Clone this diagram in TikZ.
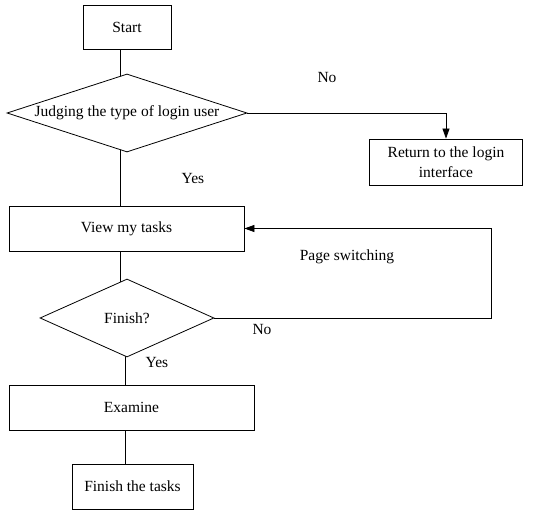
\documentclass[tikz,border=0pt]{standalone}
\usepackage{fontspec}
\setmainfont{Liberation Serif}
\usetikzlibrary{shapes.geometric,arrows.meta,backgrounds}

\tikzset{
  arrow/.style={-{Triangle[length=10pt,width=7pt]}},
}

\begin{document}
\begin{tikzpicture}[x=1pt,y=-1pt,line width=0.8pt,font=\fontsize{15.5}{20}\selectfont]

        \useasboundingbox (0,0) rectangle (544,510);

        \begin{scope}[every node/.style={rectangle,draw,fill=white,inner sep=0pt}]
          \node[minimum width=88,minimum height=44]  (start)   at (127,27)    {Start};
          \node[minimum width=153,minimum height=46,align=center] (ret) at (446,162) {Return to the login\\interface};
          \node[minimum width=235,minimum height=45] (view)    at (126.5,228.5) {View my tasks};
          \node[minimum width=245,minimum height=45] (examine) at (131.5,407.5) {Examine};
          \node[minimum width=121,minimum height=45] (tasks)   at (132.5,486.5) {Finish the tasks};
        \end{scope}

        \begin{scope}[every node/.style={diamond,draw,fill=white,inner sep=0pt,aspect=3}]
          \node[minimum width=240,minimum height=78] (judge)  at (127,113) {Judging the type of login user};
          \node[minimum width=174,minimum height=78] (finish) at (127,318) {Finish?};
        \end{scope}

        \begin{scope}[on background layer]
          \draw ([xshift=-7pt]start.center) -- ([xshift=-7pt]judge.center);
          \draw ([xshift=-7pt]judge.center) -- ([xshift=-7pt]judge.center |- view.center);
          \draw ([xshift=-6.5pt]view.center) -- ([xshift=-6.5pt]view.center |- finish.center);
          \draw ([xshift=-2pt]finish.center) -- ([xshift=-2pt]finish.center |- examine.center);
          \draw ([xshift=-6.5pt]examine.center) -- ([xshift=-6.5pt]examine.center |- tasks.center);
        \end{scope}

        \coordinate (back) at (491,228.5);
        \draw[arrow] (judge.east) -| (ret.north);
        \draw[arrow] (finish.east) -| (back) -- (view.east);

        \node (no1)   at (327,78)  {No};
        \node (yes1)  at (193,179) {Yes};
        \node (page)  at (347,257) {Page switching};
        \node (no2)   at (262,330) {No};
        \node (yes2)  at (157,363) {Yes};

      \end{tikzpicture}
\end{document}
